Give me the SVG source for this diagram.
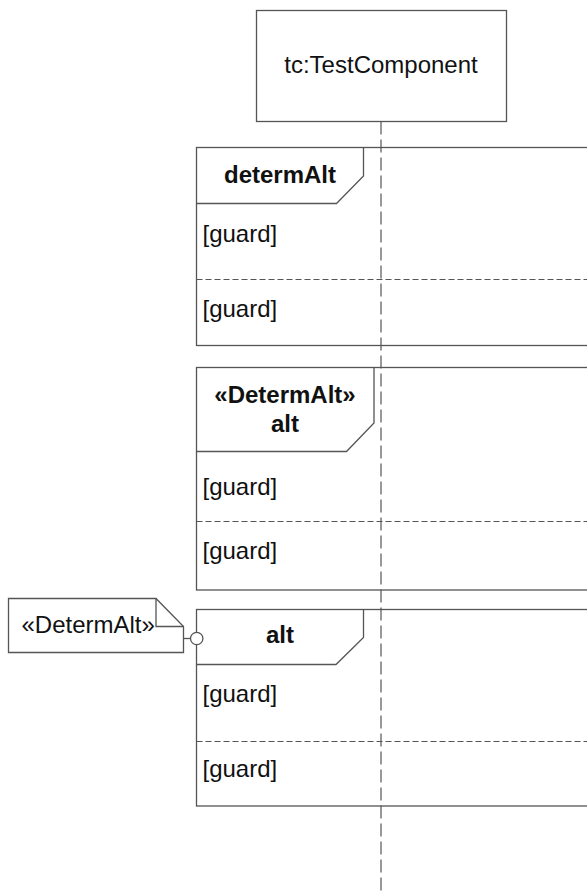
<svg xmlns="http://www.w3.org/2000/svg" width="587" height="891" viewBox="0 0 587 891">
<style>
.ln{fill:none;stroke:#555;stroke-width:1.3}
.bx{fill:#fff;stroke:#555;stroke-width:1.3}
.dv{fill:none;stroke:#555;stroke-width:1.1;stroke-dasharray:6 3}
.t{font-family:"Liberation Sans",Arial,sans-serif;font-size:24px;fill:#111}
.b{font-weight:bold}
.c{text-anchor:middle}
</style>
<rect width="587" height="891" fill="#fff"/>
<g id="lifeline-tc">
<rect class="bx" x="256.5" y="10.5" width="250" height="111"/>
<text class="t c" x="381" y="73">tc:TestComponent</text>
<line x1="381" y1="121.5" x2="381" y2="891" stroke="#555" stroke-width="1.2" stroke-dasharray="13 5"/>
</g>
<g id="frame-determAlt">
<rect class="ln" x="196.5" y="147.5" width="420" height="198"/>
<polyline class="ln" points="196.5,203.5 336.5,203.5 363.5,176 363.5,147.5"/>
<text class="t b c" x="280" y="183">determAlt</text>
<line class="dv" x1="196.5" y1="279.5" x2="587" y2="279.5"/>
<text class="t" x="202.5" y="242">[guard]</text>
<text class="t" x="202.5" y="317">[guard]</text>
</g>
<g id="frame-stereotyped-alt">
<rect class="ln" x="196.5" y="367.5" width="420" height="222.5"/>
<polyline class="ln" points="196.5,451.5 346.5,451.5 374,423 374,367.5"/>
<text class="t b c" x="285" y="403">«DetermAlt»</text>
<text class="t b c" x="285" y="432">alt</text>
<line class="dv" x1="196.5" y1="521.5" x2="587" y2="521.5"/>
<text class="t" x="202.5" y="495">[guard]</text>
<text class="t" x="202.5" y="559">[guard]</text>
</g>
<g id="frame-alt">
<rect class="ln" x="196.5" y="609.5" width="420" height="196.5"/>
<polyline class="ln" points="196.5,664.5 336,664.5 363.5,637.5 363.5,609.5"/>
<text class="t b c" x="280" y="643">alt</text>
<line class="dv" x1="196.5" y1="741.5" x2="587" y2="741.5"/>
<text class="t" x="202.5" y="702">[guard]</text>
<text class="t" x="202.5" y="777">[guard]</text>
</g>
<g id="note-DetermAlt">
<path class="bx" d="M8.5,598.5 H156 L183.5,626.5 V652.5 H8.5 Z"/>
<polyline class="ln" points="156,598.5 156,626.5 183.5,626.5"/>
<text class="t" x="21.5" y="633">«DetermAlt»</text>
</g>
<g id="connectors">
<line class="ln" x1="183.5" y1="638.5" x2="190.5" y2="638.5"/>
<circle cx="196.7" cy="638.5" r="6.2" fill="#fff" stroke="#555" stroke-width="1.3"/>
</g>
</svg>
